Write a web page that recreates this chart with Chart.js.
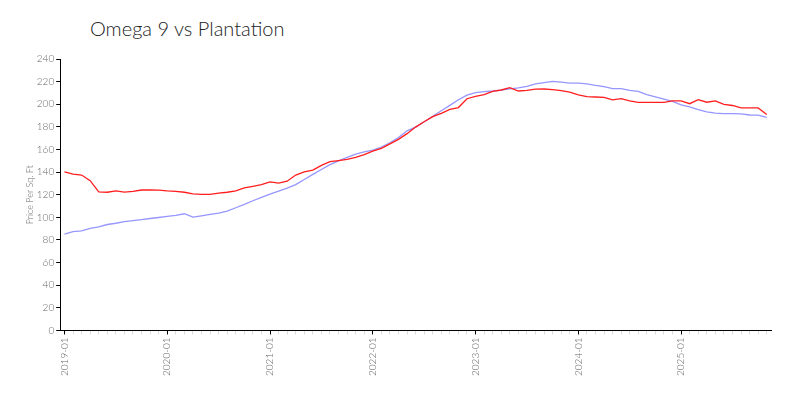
<!DOCTYPE html>
<html>
<head>
<meta charset="utf-8">
<script src="https://cdn.jsdelivr.net/npm/chart.js@4"></script>
<style>
  html, body { margin:0; padding:0; background:#fff; }
  #wrap { position:relative; width:800px; height:400px; }
  #title {
    position:absolute; left:90px; top:16px;
    font-family: Lato, "Open Sans", sans-serif; font-weight:300;
    font-size:20px; color:#222; white-space:nowrap;
  }
  canvas { position:absolute; left:0; top:0; }
</style>
</head>
<body>
<div id="wrap">
  <div id="title">Omega 9 vs Plantation</div>
  <canvas id="chart" width="800" height="400"></canvas>
</div>
<script>
// ===== data =====
const months = [
  '2019-01','2019-02','2019-03','2019-04','2019-05','2019-06','2019-07','2019-08','2019-09','2019-10','2019-11','2019-12',
  '2020-01','2020-02','2020-03','2020-04','2020-05','2020-06','2020-07','2020-08','2020-09','2020-10','2020-11','2020-12',
  '2021-01','2021-02','2021-03','2021-04','2021-05','2021-06','2021-07','2021-08','2021-09','2021-10','2021-11','2021-12',
  '2022-01','2022-02','2022-03','2022-04','2022-05','2022-06','2022-07','2022-08','2022-09','2022-10','2022-11','2022-12',
  '2023-01','2023-02','2023-03','2023-04','2023-05','2023-06','2023-07','2023-08','2023-09','2023-10','2023-11','2023-12',
  '2024-01','2024-02','2024-03','2024-04','2024-05','2024-06','2024-07','2024-08','2024-09','2024-10','2024-11','2024-12',
  '2025-01','2025-02','2025-03','2025-04','2025-05','2025-06','2025-07','2025-08','2025-09','2025-10','2025-11'
];

// Omega 9 (red)
const omega9 = [
  140.3, 138.3, 137.4, 132.5, 122.5, 122.2, 123.4, 122.4, 123.0, 124.2, 124.3, 124.0,
  123.4, 123.0, 122.2, 120.7, 120.4, 120.4, 121.5, 122.2, 123.4, 126.0, 127.5, 129.0,
  131.4, 130.2, 132.0, 137.4, 140.3, 141.8, 146.0, 149.3, 150.2, 151.2, 153.0, 155.5,
  158.5, 161.0, 165.0, 169.0, 174.0, 179.8, 184.5, 189.0, 192.0, 195.5, 197.1, 204.9,
  207.0, 208.5, 211.4, 212.6, 214.7, 211.7, 212.3, 213.3, 213.5, 213.0, 212.0, 210.8,
  208.2, 206.8, 206.4, 206.0, 203.8, 205.0, 202.9, 201.6, 201.6, 201.6, 201.6, 202.9,
  202.9, 200.5, 204.0, 201.8, 202.9, 199.8, 198.9, 196.8, 196.8, 196.8, 190.9
];

// Plantation (blue)
const plantation = [
  85.3, 87.4, 88.0, 90.2, 91.6, 93.7, 94.8, 96.3, 97.2, 98.1, 99.0, 99.9,
  100.8, 101.7, 103.2, 100.2, 101.4, 102.6, 103.7, 105.5, 108.5, 111.5, 114.7, 117.6,
  120.5, 123.2, 125.8, 129.0, 133.5, 138.0, 142.3, 146.6, 150.0, 153.0, 156.0, 157.8,
  159.5, 162.2, 166.0, 170.5, 176.5, 179.8, 184.5, 189.3, 194.3, 199.0, 204.0, 208.0,
  210.2, 211.2, 211.7, 212.5, 213.5, 214.5, 215.8, 218.0, 219.2, 220.3, 219.5, 218.6,
  218.6, 218.0, 216.6, 215.5, 213.8, 213.8, 212.2, 211.4, 208.6, 206.5, 204.5, 202.5,
  199.5, 197.7, 195.3, 193.3, 192.2, 191.8, 191.7, 191.5, 190.5, 190.3, 188.5
];

const FONT = 'Lato, "Open Sans", sans-serif';
const isYear = (i) => months[i] && months[i].endsWith('-01');

new Chart(document.getElementById('chart'), {
  type: 'line',
  data: {
    labels: months,
    datasets: [
      { label: 'Omega 9', data: omega9, borderColor: 'rgb(255,30,30)', borderWidth: 1.3,
        pointRadius: 0, tension: 0, fill: false },
      { label: 'Plantation', data: plantation, borderColor: 'rgb(150,150,255)', borderWidth: 1.3,
        pointRadius: 0, tension: 0, fill: false }
    ]
  },
  options: {
    responsive: false,
    animation: false,
    layout: { padding: { top: 59, right: 29, bottom: 21, left: 25 } },
    plugins: {
      legend: { display: false },
      title: { display: false },
      tooltip: { enabled: false }
    },
    scales: {
      x: {
        type: 'category',
        offset: true,
        border: { color: '#000', width: 1 },
        grid: {
          offset: false,
          drawOnChartArea: false,
          tickLength: 4,
          color: (ctx) => isYear(ctx.index) ? '#000' : '#ddd'
        },
        ticks: {
          autoSkip: false,
          minRotation: 90,
          maxRotation: 90,
          padding: 3,
          color: '#666',
          font: { family: FONT, size: 10, weight: 300 },
          callback: (v, i) => isYear(i) ? months[i] : ''
        }
      },
      y: {
        min: 0,
        max: 240,
        border: { color: '#000', width: 1 },
        grid: { drawOnChartArea: false, tickLength: 4, color: '#000' },
        ticks: {
          stepSize: 20,
          padding: 2,
          color: '#666',
          font: { family: FONT, size: 10, weight: 300 }
        },
        title: {
          display: true,
          text: 'Price Per Sq. Ft',
          color: '#666',
          padding: { top: 0, bottom: -1 },
          font: { family: FONT, size: 9, weight: 300 }
        }
      }
    }
  }
});
</script>
</body>
</html>
